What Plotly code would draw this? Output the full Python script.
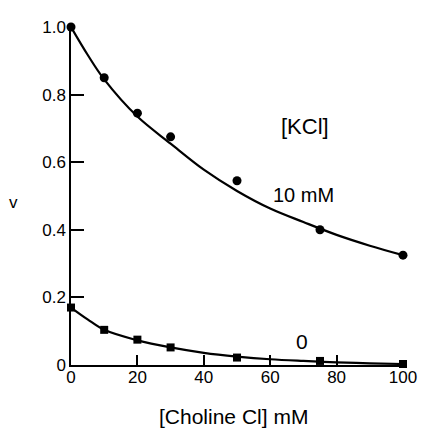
import plotly.graph_objects as go

# Measured points
choline = [0, 10, 20, 30, 50, 75, 100]
v_kcl10 = [1.0, 0.85, 0.745, 0.675, 0.545, 0.40, 0.325]
v_kcl0 = [0.17, 0.104, 0.075, 0.052, 0.022, 0.012, 0.003]

# Fitted curves
fit_x = [0, 5, 10, 20, 30, 40, 50, 60, 70, 80, 90, 100]
fit_kcl10 = [1.0, 0.918, 0.845, 0.735, 0.655, 0.578, 0.515, 0.463, 0.423, 0.385, 0.353, 0.325]
fit_kcl0 = [0.17, 0.135, 0.104, 0.073, 0.052, 0.036, 0.025, 0.017, 0.012, 0.008, 0.005, 0.003]

x_ticks = [0, 20, 40, 60, 80, 100]
x_ticktext = ["0", "20", "40", "60", "80", "100"]
y_ticks = [0, 0.2, 0.4, 0.6, 0.8, 1.0]
y_ticktext = ["0", "0.2", "0.4", "0.6", "0.8", "1.0"]

FONT = "Liberation Sans, Arial, sans-serif"

fig = go.Figure()
fig.add_trace(go.Scatter(x=fit_x, y=fit_kcl10, mode="lines",
                         line=dict(color="black", width=2.2, shape="spline"),
                         hoverinfo="skip", showlegend=False, cliponaxis=False))
fig.add_trace(go.Scatter(x=fit_x, y=fit_kcl0, mode="lines",
                         line=dict(color="black", width=2.2, shape="spline"),
                         hoverinfo="skip", showlegend=False, cliponaxis=False))
fig.add_trace(go.Scatter(x=choline, y=v_kcl10, mode="markers",
                         marker=dict(symbol="circle", size=9, color="black"),
                         showlegend=False, cliponaxis=False))
fig.add_trace(go.Scatter(x=choline, y=v_kcl0, mode="markers",
                         marker=dict(symbol="square", size=8, color="black"),
                         showlegend=False, cliponaxis=False))

# Labels inside the plot (data coordinates)
for x, y, t, s in [(70.5, 0.705, "[KCl]", 22), (70, 0.503, "10 mM", 20), (69.5, 0.07, "0", 21)]:
    fig.add_annotation(x=x, y=y, xref="x", yref="y", text=t, showarrow=False,
                       xanchor="center", yanchor="middle",
                       font=dict(family=FONT, size=s, color="black"))

# Axis titles (paper coordinates)
fig.add_annotation(x=-0.1735, y=0.481, xref="paper", yref="paper", text="v",
                   showarrow=False, xanchor="center", yanchor="middle",
                   font=dict(family=FONT, size=17, color="black"))
fig.add_annotation(x=0.488, y=-0.153, xref="paper", yref="paper", text="[Choline Cl] mM",
                   showarrow=False, xanchor="center", yanchor="middle",
                   font=dict(family=FONT, size=21, color="black"))

fig.update_xaxes(range=[0, 100], tickvals=x_ticks, ticktext=x_ticktext,
                 ticks="inside", ticklen=10, tickwidth=1.5, tickcolor="black",
                 showline=True, linecolor="black", linewidth=1.5,
                 showgrid=False, zeroline=False, ticklabelstandoff=-4,
                 tickfont=dict(family=FONT, size=17, color="black"))
fig.update_yaxes(range=[0, 1.0], tickvals=y_ticks, ticktext=y_ticktext,
                 ticks="inside", ticklen=13, tickwidth=1.5, tickcolor="black",
                 showline=True, linecolor="black", linewidth=1.5,
                 showgrid=False, zeroline=False,
                 tickfont=dict(family=FONT, size=17, color="black"))

# page body adds an 8px offset; size/margins compensate for it
fig.update_layout(width=419, height=426,
                  margin=dict(l=63, r=16, t=10, b=69),
                  plot_bgcolor="white", paper_bgcolor="white")

fig.write_html("out.html")
